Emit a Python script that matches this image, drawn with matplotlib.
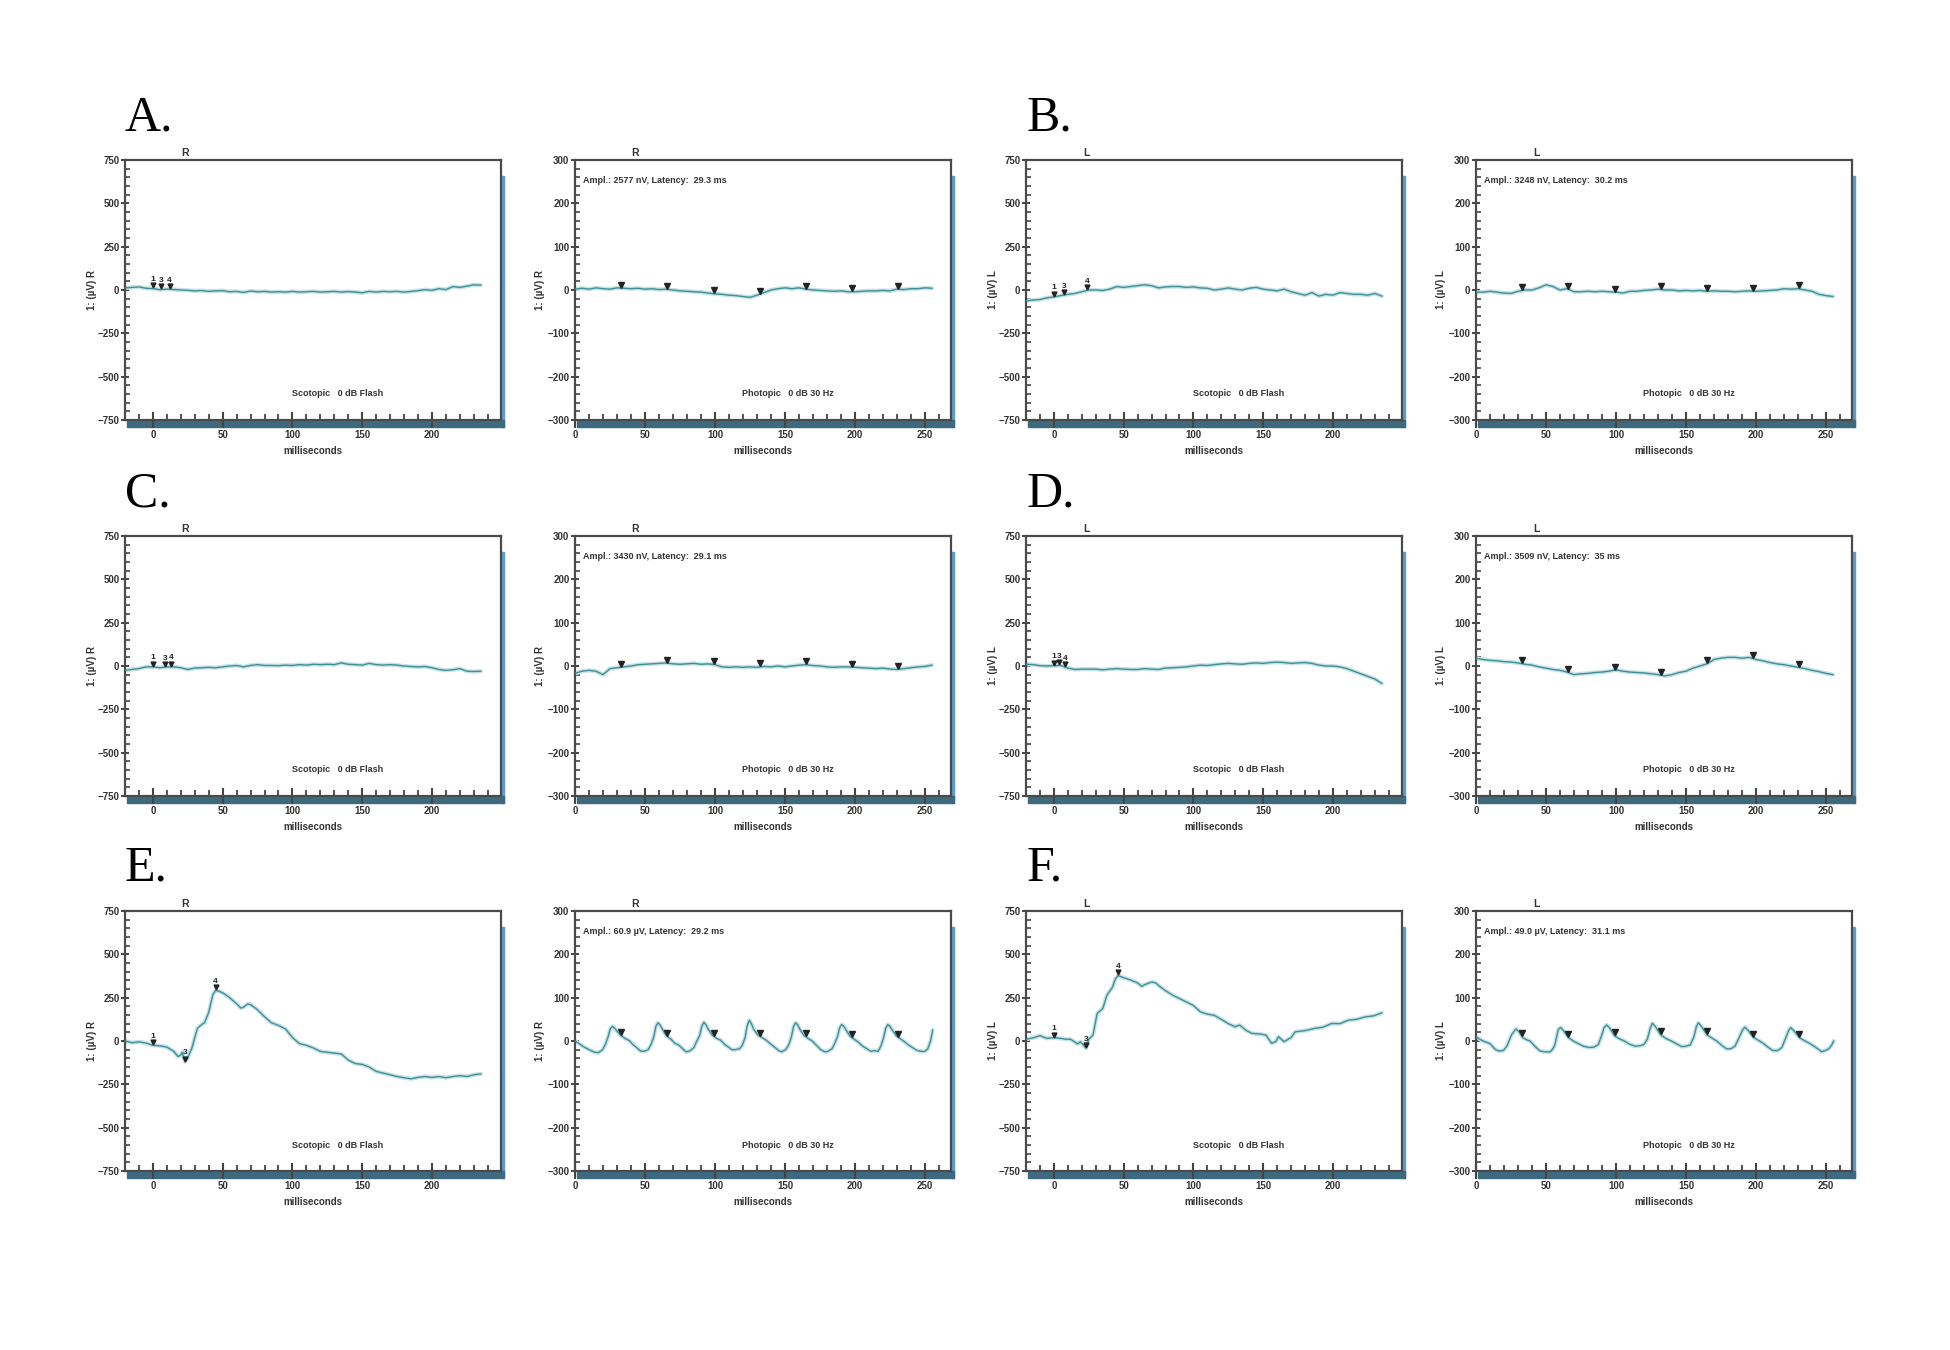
import numpy as np
import matplotlib
matplotlib.use("Agg")
import matplotlib.pyplot as plt
from matplotlib.patches import Rectangle
from matplotlib.ticker import MultipleLocator

W, H = 1950, 1350
NARROW = ["Liberation Sans Narrow", "Liberation Sans", "DejaVu Sans"]
LINE = "#3f8f9b"
HALO = "#c6e2e6"
FRAME = "#4a4a4a"

# sample times (ms) shared by the flat traces
SCO_T = [-20, -15, -10, -5, 0, 5, 10, 15, 20, 25, 30, 35, 40, 45, 50, 55, 60, 65,
         70, 75, 80, 85, 90, 95, 100, 105, 110, 115, 120, 125, 130, 135, 140, 145,
         150, 155, 160, 165, 170, 175, 180, 185, 190, 195, 200, 205, 210, 215, 220,
         225, 230, 235]
PH_T = [0, 5, 10, 15, 20, 25, 30, 35, 40, 45, 50, 55, 60, 65, 70, 75, 80, 85, 90,
        95, 100, 105, 110, 115, 120, 125, 130, 135, 140, 145, 150, 155, 160, 165,
        170, 175, 180, 185, 190, 195, 200, 205, 210, 215, 220, 225, 230, 235, 240,
        245, 250, 255]

# scotopic traces (uV)
a_sco = [12, 15, 18, 10, 8, 2, 5, 3, 0, -2, -5, -3, -8, -5, -4, -10, -8, -14, -6, -10,
         -8, -12, -10, -12, -8, -12, -10, -8, -12, -10, -8, -12, -9, -12, -16, -8, -12,
         -8, -10, -8, -12, -8, -4, 2, -2, 8, 2, 20, 15, 22, 30, 28]
b_sco = [-63, -58, -55, -45, -40, -32, -25, -20, -10, 0, 0, -3, 5, 20, 15, 20, 25, 30,
         25, 12, 18, 20, 20, 15, 18, 12, 10, 0, 5, 12, 5, 0, 10, 15, 5, 0, -5, 5, -10,
         -20, -30, -15, -35, -25, -30, -15, -20, -25, -25, -30, -20, -35]
c_sco = [-25, -20, -15, -5, -5, -10, -5, -5, -10, -20, -12, -10, -8, -10, -5, 0, 3, -5,
         3, 8, 3, 3, 2, 5, 3, 8, 5, 10, 8, 10, 8, 18, 10, 8, 5, 15, 8, 5, 8, 5, 0, -3,
         -5, -3, -10, -20, -25, -22, -15, -30, -32, -30]
d_sco = [10, 8, 2, 0, 2, 3, -12, -20, -18, -18, -18, -22, -18, -15, -18, -20, -20, -15,
         -18, -20, -12, -10, -8, -5, 0, 5, 3, 8, 12, 15, 12, 10, 15, 18, 15, 20, 22, 20,
         15, 18, 20, 15, 5, 0, 0, -5, -15, -30, -45, -60, -75, -100]
e_sco_t = [-20, -15, -10, -5, 0, 5, 10, 15, 18, 20, 21, 23, 25, 28, 30, 32, 35, 37, 40,
           43, 45, 47, 50, 55, 60, 63, 65, 68, 70, 75, 80, 85, 90, 95, 100, 105, 110,
           115, 120, 125, 130, 135, 140, 145, 150, 155, 160, 165, 170, 175, 180, 185,
           190, 195, 200, 205, 210, 215, 220, 225, 230, 235]
e_sco = [0, -10, -5, -12, -25, -28, -35, -60, -90, -80, -65, -120, -95, -40, 20, 74, 95,
         105, 165, 268, 292, 288, 278, 250, 215, 190, 195, 214, 210, 180, 140, 105, 90,
         70, 20, -15, -25, -40, -60, -65, -70, -75, -110, -130, -135, -150, -175, -185,
         -195, -205, -212, -218, -210, -205, -210, -205, -212, -205, -200, -205, -195,
         -190]
f_sco_t = [-20, -15, -10, -5, 0, 5, 9, 12, 17, 19, 23, 25, 28, 31, 35, 38, 42, 44, 46,
           50, 55, 60, 63, 65, 70, 73, 75, 80, 85, 90, 95, 100, 105, 110, 115, 120, 125,
           130, 133, 138, 142, 148, 152, 156, 159, 161, 165, 170, 173, 180, 187, 193,
           199, 205, 211, 217, 223, 229, 235]
f_sco = [10, 18, 31, 15, 19, 15, 10, 10, -17, -4, -42, 10, 34, 159, 187, 264, 311, 357,
         378, 365, 352, 335, 315, 325, 340, 335, 320, 290, 265, 245, 225, 205, 168, 155,
         148, 125, 100, 82, 92, 60, 44, 40, 34, -13, -4, 25, -4, 20, 53, 60, 73, 80, 101,
         100, 120, 125, 139, 145, 162]

# photopic 30 Hz flicker traces (uV)
a_ph = [2, 4, 2, 5, 3, 2, 5, 4, 3, 4, 2, 3, 1, 2, 0, -2, -3, -4, -5, -7, -9, -10, -12,
        -13, -15, -17, -12, -6, 0, 3, 5, 3, 5, 2, 0, -1, -2, -3, -2, -4, -4, -3, -2, -2,
        -1, -2, 2, 1, 3, 3, 5, 4]
b_ph = [-5, -5, -3, -5, -7, -8, -3, 0, 0, 5, 12, 8, 0, 3, -4, -4, -3, -4, -3, -4, -5,
        -7, -3, -3, -1, 0, 2, 0, 0, -2, -1, -2, -1, -3, -2, -3, -3, -4, -3, -2, -3, -2,
        -1, 0, 3, 2, 3, 0, -3, -10, -13, -15]
c_ph = [-17, -12, -10, -12, -20, -6, -4, -2, 0, 3, 4, 5, 6, 7, 5, 4, 5, 6, 4, 5, 3, -2,
        -3, -2, -3, -2, -3, -1, -2, 0, -2, 0, 2, 3, 1, 0, -2, -3, -2, -2, -3, -4, -5, -6,
        -5, -7, -8, -6, -4, -2, -1, 2]
d_ph = [18, 15, 13, 12, 10, 9, 7, 4, 2, -2, -5, -8, -10, -14, -20, -18, -17, -15, -14,
        -12, -9, -12, -14, -15, -16, -18, -20, -23, -20, -15, -12, -5, 0, 5, 15, 18, 20,
        20, 18, 20, 15, 12, 8, 5, 3, 0, -3, -6, -10, -13, -17, -20]
e_ph_t = [0, 3, 6, 10, 14, 16.7, 19.7, 21.7, 23.7, 25.2, 26.7, 28.2, 29.7, 32.7, 35.7,
          38.7, 41.7, 44.7, 46.7, 49.3, 52.3, 54.3, 56.3, 57.8, 59.3, 60.8, 62.3, 65.3,
          68.3, 71.3, 74.3, 77.3, 79.3, 82, 85, 87, 89, 90.5, 92, 93.5, 95, 98, 101, 104,
          107, 110, 112, 114.5, 117.5, 119.5, 121.5, 123, 124.5, 126, 127.5, 130.5,
          133.5, 136.5, 139.5, 142.5, 145.5, 147.5, 150.5, 152.5, 154.5, 156, 157.5, 159,
          160.5, 163.5, 166.5, 169.5, 172.5, 175.5, 178.5, 180.5, 183.5, 185.5, 187.5,
          189, 190.5, 192, 193.5, 196.5, 199.5, 202.5, 205.5, 208.5, 211.5, 213.5,
          216.5, 218.5, 220.5, 222, 223.5, 225, 226.5, 229.5, 232.5, 235.5, 238.5,
          241.5, 244.5, 247.5, 250, 252, 254, 255.5]
e_ph = [0, -6, -13, -20, -26, -27, -20, -8, 10, 28, 34, 30, 24, 13, 6, 1, -9, -17, -23,
        -24, -20, -8, 10, 34, 42, 37, 28, 12, 5, -5, -10, -19, -25, -23, -15, 0, 12, 33,
        43, 38, 28, 14, 6, 2, -8, -15, -20, -20, -18, -10, 8, 35, 48, 40, 28, 14, 8, 2,
        -6, -14, -22, -25, -20, -10, 8, 32, 42, 38, 28, 13, 6, 0, -10, -20, -25, -24,
        -18, -6, 10, 30, 38, 34, 26, 11, 4, -3, -12, -18, -24, -22, -24, -12, 8, 30, 38,
        34, 26, 12, 5, -2, -10, -16, -22, -24, -24, -18, 0, 25]
f_ph_t = [0, 5, 10, 13.6, 16, 19.5, 22, 25.5, 28.6, 30.5, 33.3, 36, 38.6, 42, 45.7, 49,
          52.9, 55, 56.4, 58.8, 60.5, 62.5, 66, 69.5, 73, 76.7, 81, 84.5, 87.4, 90, 91.5,
          93.3, 95.5, 99, 102.5, 106, 109.5, 113.6, 117, 120, 122.5, 124.5, 126, 128,
          132, 135.5, 139, 143, 147, 150, 153, 155.5, 157.5, 158.8, 161, 165, 168.5, 172,
          175.5, 179, 182, 185, 188, 190.5, 192, 194, 198, 201.5, 205, 208.5, 212, 215.5,
          218.5, 221, 223.3, 224.8, 227, 231, 234.5, 238, 241.5, 245, 247, 249.5, 252,
          254, 255.5]
f_ph = [9, 0, -6, -19, -23, -22, -12, 15, 28, 22, 8, 3, 0, -12, -23, -25, -25, -18, -8,
        27, 31, 24, 8, 0, -6, -12, -15, -14, -8, 15, 31, 37, 30, 12, 5, 0, -7, -12, -11,
        -8, 5, 30, 41, 34, 14, 6, 1, -6, -13, -12, -9, 8, 34, 42, 34, 14, 7, 0, -10, -18,
        -18, -12, 8, 26, 32, 26, 9, 2, -5, -14, -22, -22, -15, 5, 24, 31, 24, 8, 1, -5,
        -12, -20, -25, -22, -18, -10, 0]

# flicker marker times and numbered scotopic markers
PH_MARKS = [33, 66, 99, 132, 165, 198, 231]
a_marks = [(0, "1"), (6, "3"), (12, "4")]
b_marks = [(0, "1"), (7, "3"), (24, "4")]
c_marks = [(0, "1"), (9, "3"), (13, "4")]
d_marks = [(0, "1"), (4, "3"), (8, "4")]
e_marks = [(0, "1"), (23, "3"), (45, "4")]
f_marks = [(0, "1"), (23, "3"), (46, "4")]

ampl_text = {
    "A": "Ampl.: 2577 nV, Latency:  29.3 ms",
    "B": "Ampl.: 3248 nV, Latency:  30.2 ms",
    "C": "Ampl.: 3430 nV, Latency:  29.1 ms",
    "D": "Ampl.: 3509 nV, Latency:  35 ms",
    "E": "Ampl.: 60.9 \u00b5V, Latency:  29.2 ms",
    "F": "Ampl.: 49.0 \u00b5V, Latency:  31.1 ms",
}


def px_rect(left, top, width=376, height=260):
    return [left / W, 1 - (top + height) / H, width / W, height / H]


def frame(ax, eye, scotopic):
    for s in ax.spines.values():
        s.set_color(FRAME)
        s.set_linewidth(1.6)
    # drop shadow on the right and bottom
    ax.add_patch(Rectangle((1.0, -0.026), 0.008, 0.965, transform=ax.transAxes,
                           color="#5a9dd2", clip_on=False, zorder=0.5))
    ax.add_patch(Rectangle((0.006, -0.026), 1.002, 0.026, transform=ax.transAxes,
                           color="#3e6a80", clip_on=False, zorder=0.6))
    if scotopic:
        ax.set_xlim(-20, 249.5)
        ax.set_ylim(-750, 750)
        ax.set_xticks([0, 50, 100, 150, 200])
        ax.set_yticks([-750, -500, -250, 0, 250, 500, 750])
        ax.yaxis.set_minor_locator(MultipleLocator(50))
        ax.yaxis.set_label_coords(-0.075, 0.43)
    else:
        ax.set_xlim(0, 268.6)
        ax.set_ylim(-300, 300)
        ax.set_xticks([0, 50, 100, 150, 200, 250])
        ax.set_yticks([-300, -200, -100, 0, 100, 200, 300])
        ax.yaxis.set_minor_locator(MultipleLocator(20))
        ax.yaxis.set_label_coords(-0.08, 0.43)
    ax.xaxis.set_minor_locator(MultipleLocator(10))
    ax.tick_params(axis="x", which="major", direction="inout", length=11, width=1.5,
                   color="#444444", pad=2, labelsize=7)
    ax.tick_params(axis="x", which="minor", direction="in", length=4.5, width=1.3,
                   color="#444444")
    ax.tick_params(axis="y", which="major", direction="inout", length=6, width=1.4,
                   color="#444444", pad=1, labelsize=7)
    ax.tick_params(axis="y", which="minor", direction="in", length=3.5, width=1.2,
                   color="#444444")
    for lab in ax.get_xticklabels() + ax.get_yticklabels():
        lab.set_family(NARROW)
        lab.set_fontweight("bold")
        lab.set_color("#333333")
    ax.set_xlabel("milliseconds", fontsize=7, fontweight="bold", family=NARROW,
                  color="#333333")
    ax.xaxis.set_label_coords(0.5, -0.1)
    ax.set_ylabel("1: (\u00b5V) " + eye, fontsize=7, fontweight="bold", family=NARROW,
                  color="#333333")
    ax.text(0.16, 1.008, eye, transform=ax.transAxes, ha="center", va="bottom",
            fontsize=7.5, fontweight="bold", family=NARROW, color="#333333")


def trace(ax, t, v):
    ax.plot(t, v, color=HALO, lw=3.0, solid_capstyle="round", zorder=2)
    ax.plot(t, v, color=LINE, lw=1.0, zorder=3)


def scotopic(ax, t, v, marks, eye):
    frame(ax, eye, True)
    trace(ax, t, v)
    for mt, lab in marks:
        y = np.interp(mt, t, v)
        ax.plot(mt, y + 18, marker="v", ms=3.5, color="#222222", zorder=4)
        ax.text(mt, y + 52, lab, ha="center", va="center", fontsize=6,
                fontweight="bold", family=NARROW, color="#222222", zorder=4)
    ax.text(0.565, 0.1, "Scotopic   0 dB Flash", transform=ax.transAxes, ha="center",
            va="center", fontsize=6.5, fontweight="bold", family=NARROW, color="#333333")


def photopic(ax, t, v, eye, ampl):
    frame(ax, eye, False)
    trace(ax, t, v)
    for mt in PH_MARKS:
        y = np.interp(mt, t, v)
        ax.plot(mt, y + 8, marker="v", ms=4.5, color="#222222", zorder=4)
    ax.text(0.02, 0.92, ampl, transform=ax.transAxes, ha="left", va="center",
            fontsize=6.5, fontweight="bold", family=NARROW, color="#333333")
    ax.text(0.566, 0.1, "Photopic   0 dB 30 Hz", transform=ax.transAxes, ha="center",
            va="center", fontsize=6.5, fontweight="bold", family=NARROW, color="#333333")


def main():
    fig = plt.figure(figsize=(W / 100, H / 100), dpi=100)
    fig.patch.set_facecolor("white")

    lefts = [125, 575, 1026, 1476]
    tops = [160, 536, 911]
    letter_y = [118, 494, 868]

    panels = [
        ("A", 0, 0, SCO_T, a_sco, a_marks, PH_T, a_ph, "R"),
        ("B", 0, 2, SCO_T, b_sco, b_marks, PH_T, b_ph, "L"),
        ("C", 1, 0, SCO_T, c_sco, c_marks, PH_T, c_ph, "R"),
        ("D", 1, 2, SCO_T, d_sco, d_marks, PH_T, d_ph, "L"),
        ("E", 2, 0, e_sco_t, e_sco, e_marks, e_ph_t, e_ph, "R"),
        ("F", 2, 2, f_sco_t, f_sco, f_marks, f_ph_t, f_ph, "L"),
    ]
    for name, row, col, st, sv, marks, pt, pv, eye in panels:
        ax1 = fig.add_axes(px_rect(lefts[col], tops[row]))
        scotopic(ax1, st, sv, marks, eye)
        ax2 = fig.add_axes(px_rect(lefts[col + 1], tops[row]))
        photopic(ax2, pt, pv, eye, ampl_text[name])
        x0 = 125 if col == 0 else 1027
        fig.text(x0 / W, 1 - letter_y[row] / H, name + ".", fontsize=36,
                 family=["Liberation Serif", "DejaVu Serif"], ha="left", va="center")

    fig.savefig("out.png", dpi=100, facecolor="white")


if __name__ == "__main__":
    main()
